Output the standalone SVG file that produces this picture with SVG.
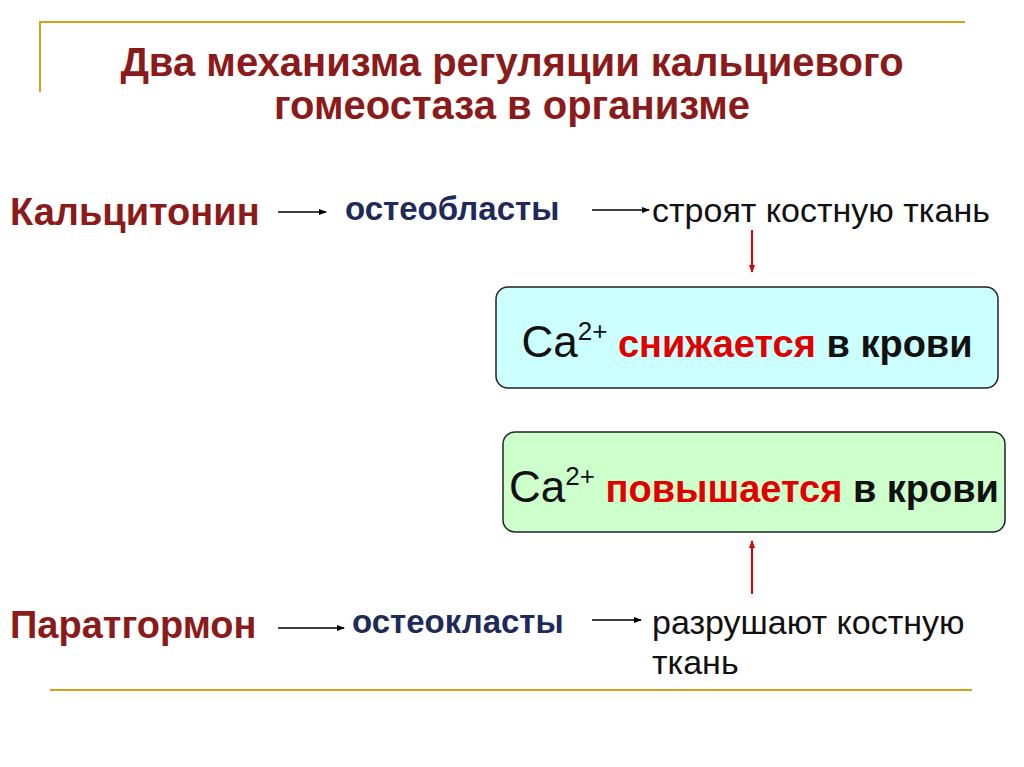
<svg xmlns="http://www.w3.org/2000/svg" width="1024" height="767" viewBox="0 0 1024 767">
<defs>
<marker id="ab" markerWidth="8" markerHeight="8" refX="7" refY="4" orient="auto" markerUnits="userSpaceOnUse"><path d="M0,1 L8,4 L0,7 Z" fill="#000"/></marker>
<marker id="ar" markerWidth="8" markerHeight="8" refX="7" refY="4" orient="auto" markerUnits="userSpaceOnUse"><path d="M0,1 L8,4 L0,7 Z" fill="#d00"/></marker>
</defs>
<style>
text{font-family:"Liberation Sans",Arial,sans-serif}
.t{font-size:40px;font-weight:bold;fill:#8b1a1a}
.h{font-size:38px;font-weight:bold;fill:#8b1a1a}
.c{font-size:33px;font-weight:bold;fill:#1f2a5a}
.r{font-size:34px;fill:#111}
.b{font-size:38px;font-weight:bold;fill:#111}
.red{fill:#e00000}
.gl{stroke:#d4a017;stroke-width:2;fill:none}
.k{stroke:#000;stroke-width:1.5;marker-end:url(#ab)}
.kr{stroke:#d00;stroke-width:2;marker-end:url(#ar)}
</style>
<rect width="1024" height="767" fill="#fff"/>
<g id="frame"><path class="gl" d="M40,92 V22 H965"/><path class="gl" d="M50,690 H972"/></g>
<g id="title"><text class="t" x="512" y="76" text-anchor="middle">Два механизма регуляции кальциевого</text><text class="t" x="512" y="119" text-anchor="middle">гомеостаза в организме</text></g>
<g id="calcitonin"><text class="h" x="10" y="225">Кальцитонин</text></g>
<g id="osteoblasts"><text class="c" x="345" y="220">остеобласты</text></g>
<g id="build"><text class="r" x="652" y="222">строят костную ткань</text></g>
<g id="box1"><rect x="496" y="287" width="502" height="101" rx="12" fill="#ccffff" stroke="#222" stroke-width="1.5"/><text class="b" x="747" y="357" text-anchor="middle"><tspan font-size="44" font-weight="normal">Ca</tspan><tspan font-size="26" font-weight="normal" dy="-17">2+</tspan><tspan dy="17" class="red"> снижается</tspan> в крови</text></g>
<g id="box2"><rect x="503" y="432" width="502" height="100" rx="12" fill="#ccffcc" stroke="#222" stroke-width="1.5"/><text class="b" x="754" y="502" text-anchor="middle"><tspan font-size="44" font-weight="normal">Ca</tspan><tspan font-size="26" font-weight="normal" dy="-17">2+</tspan><tspan dy="17" class="red"> повышается</tspan> в крови</text></g>
<g id="parathormone"><text class="h" x="10" y="638">Паратгормон</text></g>
<g id="osteoclasts"><text class="c" x="352" y="633">остеокласты</text></g>
<g id="destroy"><text class="r" x="652" y="634">разрушают костную</text><text class="r" x="652" y="674">ткань</text></g>
<g id="connectors">
<line class="k" x1="278" y1="212" x2="326" y2="212"/>
<line class="k" x1="592" y1="210" x2="649" y2="210"/>
<line class="kr" x1="752" y1="230" x2="752" y2="272"/>
<line class="kr" x1="752" y1="594" x2="752" y2="541"/>
<line class="k" x1="278" y1="628" x2="344" y2="628"/>
<line class="k" x1="592" y1="620" x2="641" y2="620"/>
</g>
</svg>
